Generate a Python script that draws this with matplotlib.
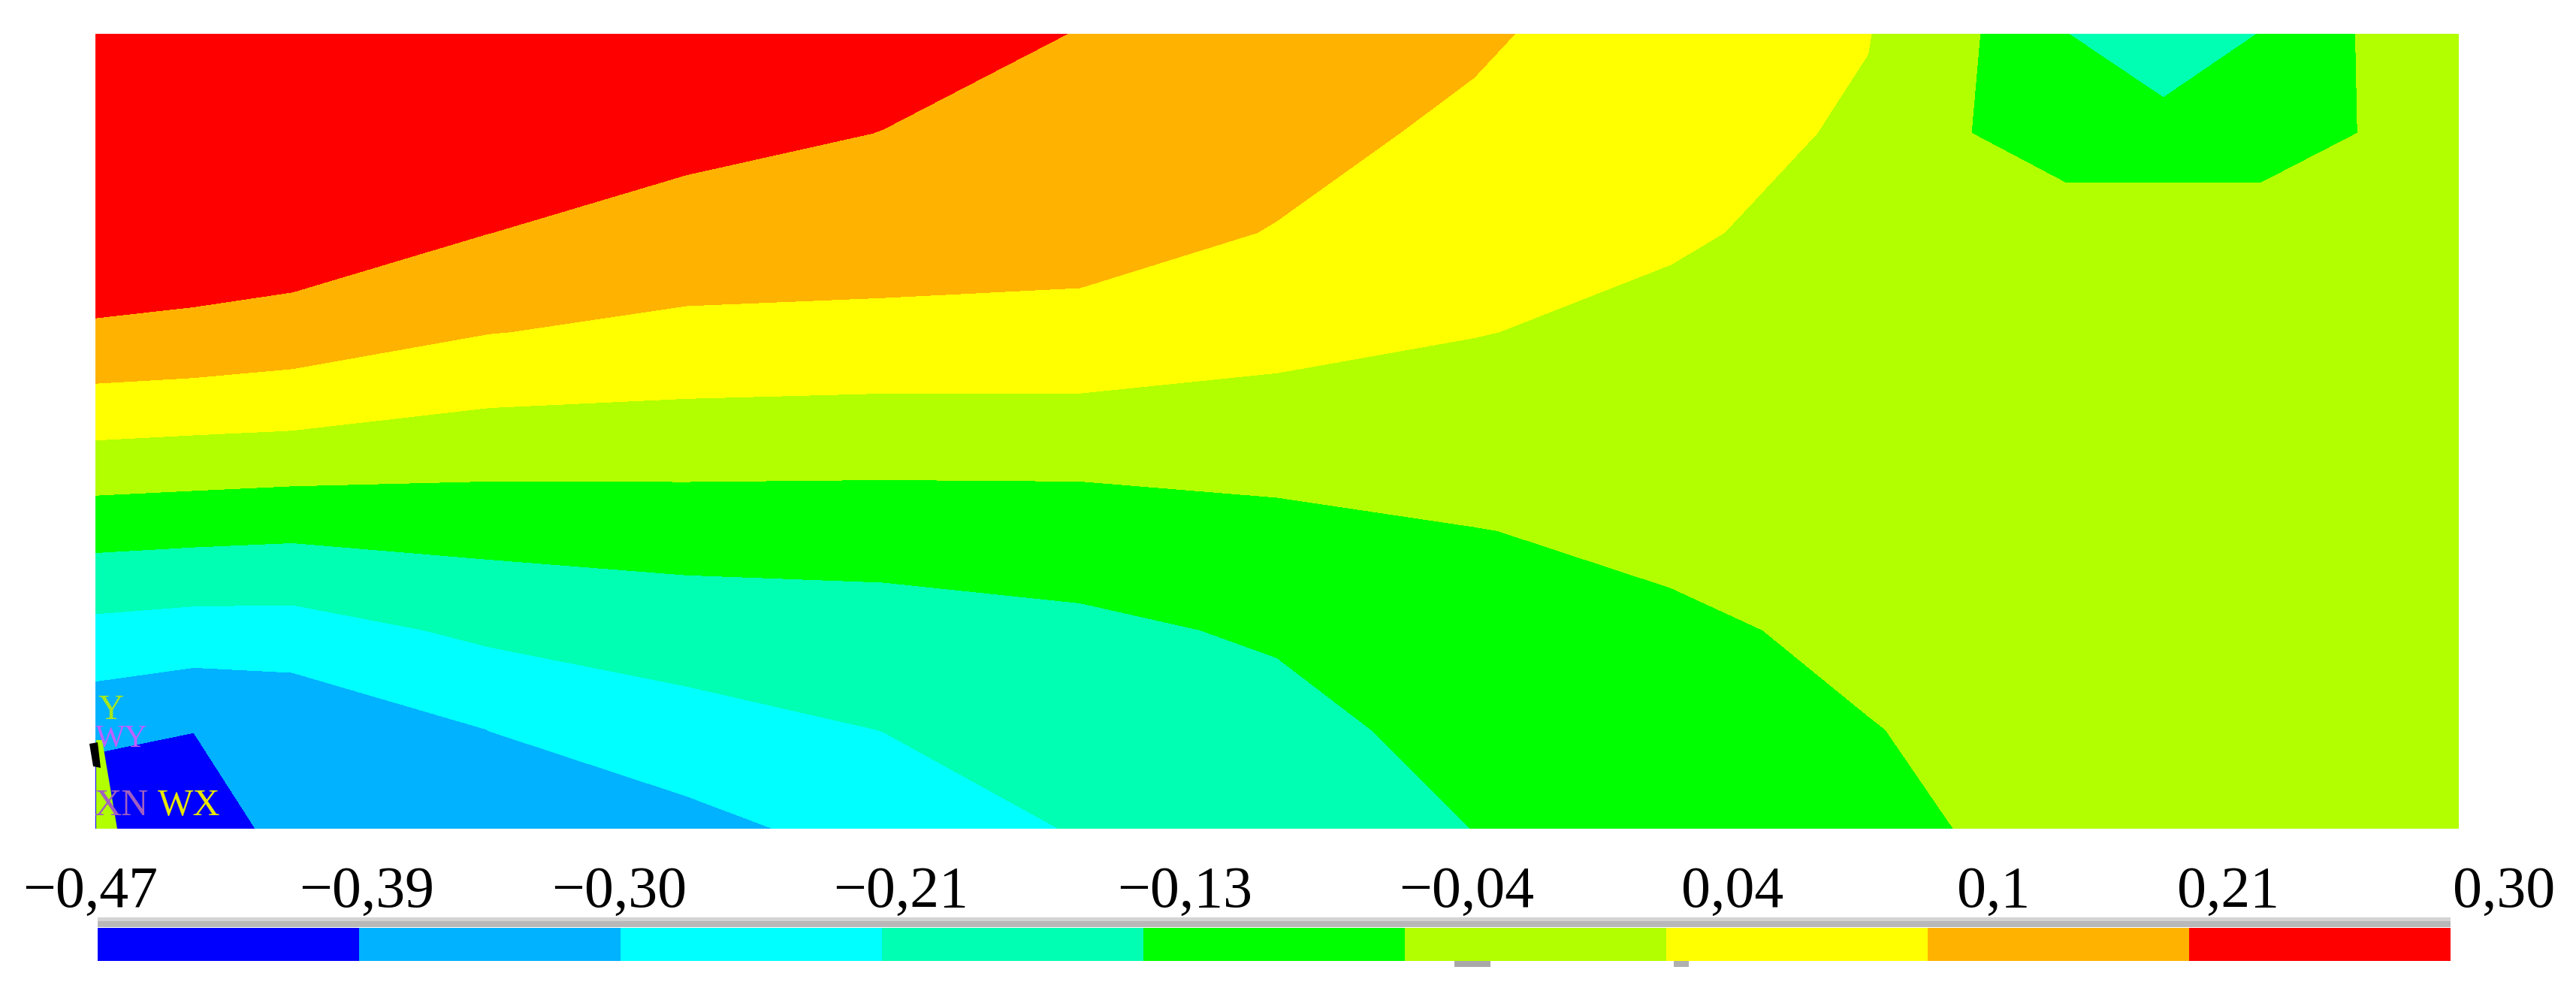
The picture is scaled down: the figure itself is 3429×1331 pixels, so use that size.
import numpy as np
import matplotlib
matplotlib.use("Agg")
import matplotlib.pyplot as plt
from matplotlib.patches import Rectangle, Polygon

# ---------------- data ----------------
# node positions of the sampled stress field (plate length units, 0..12 x 0..8)
x_nodes = [0, 0.5, 1, 2, 3, 4, 5, 6, 7, 8, 9, 9.5, 10, 10.5, 11, 11.5, 12]
y_nodes = [8, 7, 6, 5, 4, 3, 2, 1, 0]

# nodal values, one list per node row (top row first)
row_y8 = [0.300, 0.298, 0.296, 0.287, 0.274, 0.249, 0.212, 0.172, 0.139, 0.090, 0.046, -0.029, -0.125, -0.205, -0.124, -0.038, -0.008]
row_y7 = [0.283, 0.283, 0.283, 0.257, 0.240, 0.213, 0.181, 0.150, 0.116, 0.073, 0.033, -0.040, -0.085, -0.085, -0.085, -0.041, -0.017]
row_y6 = [0.266, 0.266, 0.266, 0.215, 0.179, 0.180, 0.155, 0.126, 0.078, 0.052, 0.020, -0.008, 0.001, 0.001, 0.001, -0.008, -0.004]
row_y5 = [0.206, 0.197, 0.180, 0.131, 0.111, 0.102, 0.108, 0.073, 0.046, 0.025, 0.007, -0.004, 0.001, 0.005, 0.005, 0.001, 0.001]
row_y4 = [0.057, 0.049, 0.042, 0.016, 0.010, 0.007, 0.003, 0.001, 0.001, -0.001, -0.005, -0.008, -0.004, 0.001, 0.001, 0.001, 0.001]
row_y3 = [-0.097, -0.104, -0.111, -0.100, -0.093, -0.094, -0.087, -0.064, -0.044, -0.029, -0.018, -0.017, -0.008, -0.004, -0.004, -0.004, -0.004]
row_y2 = [-0.236, -0.248, -0.248, -0.196, -0.171, -0.159, -0.143, -0.118, -0.072, -0.052, -0.031, -0.025, -0.017, -0.012, -0.008, -0.008, -0.008]
row_y1 = [-0.358, -0.383, -0.367, -0.298, -0.246, -0.212, -0.175, -0.153, -0.100, -0.072, -0.044, -0.034, -0.021, -0.017, -0.012, -0.012, -0.012]
row_y0 = [-0.470, -0.427, -0.359, -0.350, -0.325, -0.266, -0.207, -0.167, -0.127, -0.092, -0.057, -0.040, -0.025, -0.021, -0.017, -0.017, -0.017]

v_min = -0.47
v_max = 0.30
n_bands = 9
tick_labels = ["\u22120,47", "\u22120,39", "\u22120,30", "\u22120,21", "\u22120,13",
               "\u22120,04", "0,04", "0,1", "0,21", "0,30"]

band_colors = ["#0000ff", "#00b2ff", "#00ffff", "#00ffb2", "#00ff00",
               "#b2ff00", "#ffff00", "#ffb200", "#ff0000"]

# ---------------- layout (pixels of a 3430 x 1331 canvas) ----------------
W, H = 3430, 1331
fig = plt.figure(figsize=(W / 100, H / 100), dpi=100)
fig.patch.set_facecolor("white")

def fx(px):
    return px / W

def fy(py):
    return 1 - py / H

# main contour plot
ax = fig.add_axes([fx(127), fy(1103), fx(3273) - fx(127), fy(45) - fy(1103)])
Z = np.array([row_y8, row_y7, row_y6, row_y5, row_y4, row_y3, row_y2, row_y1, row_y0])
X, Y = np.meshgrid(np.array(x_nodes, float), np.array(y_nodes, float))
levels = np.linspace(v_min, v_max, n_bands + 1)
cf = ax.contourf(X, Y, Z, levels=levels, colors=band_colors, antialiased=False)
ax.set_xlim(min(x_nodes), max(x_nodes))
ax.set_ylim(min(y_nodes), max(y_nodes))
ax.set_axis_off()

# overlay axes in pixel units for the triad and legend decorations
ov = fig.add_axes([0, 0, 1, 1], facecolor="none")
ov.set_xlim(0, W)
ov.set_ylim(H, 0)
ov.set_axis_off()

# triad annotation (bottom-left corner)
ov.add_patch(Polygon([[128, 985], [136, 985], [156, 1103], [128, 1103]],
                     closed=True, color="#b2ff00", lw=0))
ov.add_patch(Polygon([[119, 990], [130, 988], [134, 1022], [124, 1020]],
                     closed=True, color="black", lw=0))
ov.text(148, 957, "Y", color="#a6e81c", fontsize=34, family="Liberation Serif",
        ha="center", va="baseline")
ov.text(162, 993, "WY", color="#c060ff", fontsize=30, family="Liberation Serif",
        ha="center", va="baseline")
ov.text(162, 1085, "XN", color="#a060c0", fontsize=36, family="Liberation Serif",
        ha="center", va="baseline")
ov.text(252, 1085, "WX", color="#e8e800", fontsize=36, family="Liberation Serif",
        ha="center", va="baseline")

# gray strip above the legend bar
ov.add_patch(Rectangle((130, 1221), 3132, 13, color="#b8b8b8", lw=0))
ov.add_patch(Rectangle((130, 1221), 3132, 5, color="#d4d4d4", lw=0))
# faint gray remnants under the bar
ov.add_patch(Rectangle((1936, 1279), 48, 8, color="#a8a8a8", lw=0))
ov.add_patch(Rectangle((2228, 1279), 20, 8, color="#b0b0b0", lw=0))

# legend bar
cax = fig.add_axes([fx(130), fy(1279), fx(3262) - fx(130), fy(1235) - fy(1279)])
cb = fig.colorbar(cf, cax=cax, orientation="horizontal")
cb.outline.set_visible(False)
cax.set_xticks([])
cax.set_yticks([])

# legend labels
label_px = [120, 488, 824, 1199, 1577, 1952, 2306, 2654, 2966, 3333]
for px, lab in zip(label_px, tick_labels):
    fig.text(fx(px), fy(1207), lab, ha="center", va="baseline",
             fontsize=56, family="Liberation Serif", color="black")

fig.savefig("out.png", dpi=100, facecolor="white")
